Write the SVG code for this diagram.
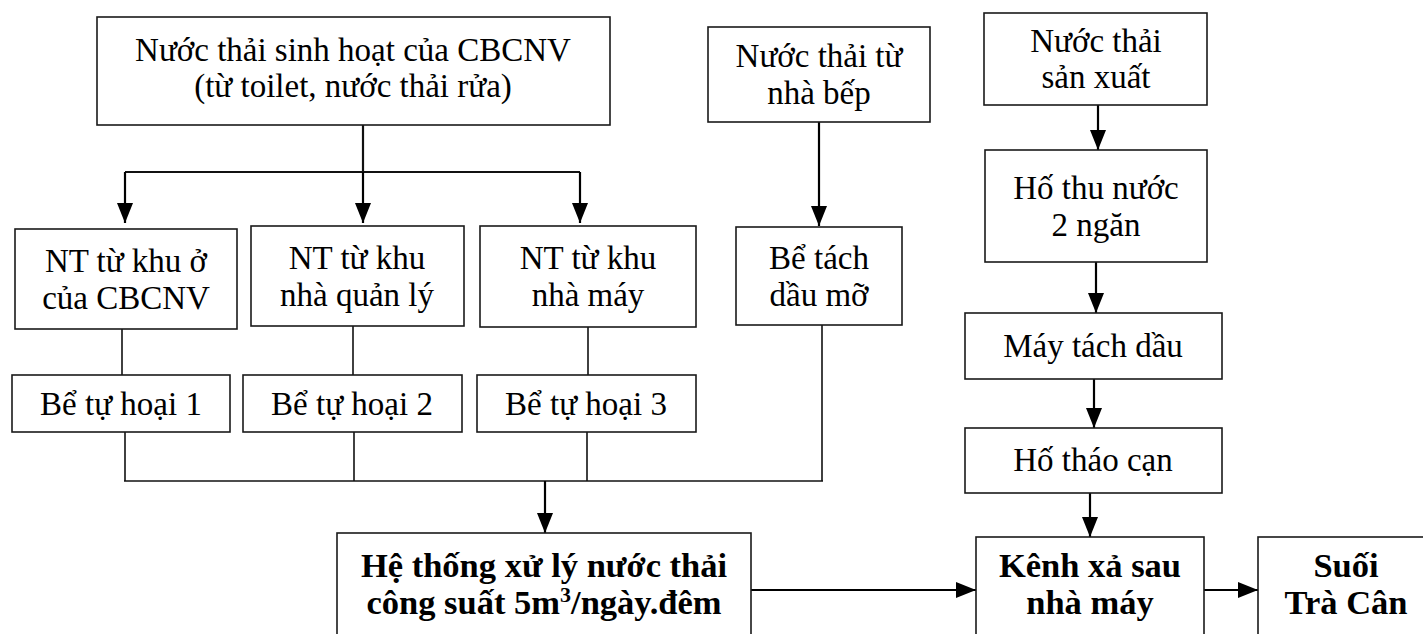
<svg xmlns="http://www.w3.org/2000/svg" width="1423" height="634" viewBox="0 0 1423 634">
  <style>
    .box { fill: #ffffff; stroke: #1a1a1a; stroke-width: 1.6; }
    .t { font-family: "Liberation Serif", "Times New Roman", serif; font-size: 33px; fill: #000; text-anchor: middle; }
    .b { font-weight: bold; font-size: 34.5px; }
    .ln { fill: none; stroke: #111; stroke-width: 1.6; }
    .ar { fill: none; stroke: #000; stroke-width: 2.2; marker-end: url(#head); }
  </style>
  <defs>
    <marker id="head" markerUnits="userSpaceOnUse" markerWidth="20" markerHeight="16" refX="20" refY="8" orient="auto" viewBox="0 0 20 16">
      <path d="M0,0 L20,8 L0,16 Z" fill="#000"/>
    </marker>
  </defs>
  <rect width="1423" height="634" fill="#ffffff"/>

  <g id="connectors">
    <!-- domestic wastewater split into three branches -->
    <line class="ln" x1="363" y1="125" x2="363" y2="172" style="stroke-width:2.2"/>
    <line class="ln" x1="125" y1="172" x2="580" y2="172" style="stroke-width:2.2"/>
    <line class="ar" x1="125" y1="172" x2="125" y2="223"/>
    <line class="ar" x1="363" y1="172" x2="363" y2="223"/>
    <line class="ar" x1="580" y1="172" x2="580" y2="223"/>
    <!-- NT areas to septic tanks -->
    <line class="ln" x1="122" y1="329" x2="122" y2="375"/>
    <line class="ln" x1="353" y1="326" x2="353" y2="375"/>
    <line class="ln" x1="588" y1="327" x2="588" y2="375"/>
    <!-- kitchen to grease trap -->
    <line class="ar" x1="819" y1="122" x2="819" y2="226"/>
    <!-- collector to treatment system -->
    <line class="ln" x1="125" y1="432" x2="125" y2="481"/>
    <line class="ln" x1="354" y1="432" x2="354" y2="481"/>
    <line class="ln" x1="587" y1="432" x2="587" y2="481"/>
    <line class="ln" x1="822" y1="325" x2="822" y2="481"/>
    <line class="ln" x1="124" y1="481" x2="823" y2="481"/>
    <line class="ar" x1="545" y1="481" x2="545" y2="533"/>
    <!-- production wastewater chain -->
    <line class="ar" x1="1098" y1="105" x2="1098" y2="150"/>
    <line class="ar" x1="1096" y1="262" x2="1096" y2="313"/>
    <line class="ar" x1="1094" y1="379" x2="1094" y2="428"/>
    <line class="ar" x1="1090" y1="493" x2="1090" y2="537"/>
    <!-- discharge -->
    <line class="ar" x1="751" y1="590" x2="976" y2="590"/>
    <line class="ar" x1="1204" y1="590" x2="1258" y2="590"/>
  </g>

  <g id="sinh-hoat">
    <rect class="box" x="97" y="17" width="513" height="108"/>
    <text class="t" x="353" y="61">Nước thải sinh hoạt của CBCNV</text>
    <text class="t" x="353" y="97">(từ toilet, nước thải rửa)</text>
  </g>

  <g id="nt-khu-o">
    <rect class="box" x="15" y="229" width="222" height="100"/>
    <text class="t" x="126" y="272">NT từ khu ở</text>
    <text class="t" x="126" y="309">của CBCNV</text>
  </g>
  <g id="nt-quan-ly">
    <rect class="box" x="251" y="226" width="213" height="100"/>
    <text class="t" x="357" y="269">NT từ khu</text>
    <text class="t" x="357" y="306">nhà quản lý</text>
  </g>
  <g id="nt-nha-may">
    <rect class="box" x="480" y="226" width="216" height="101"/>
    <text class="t" x="588" y="269">NT từ khu</text>
    <text class="t" x="588" y="306">nhà máy</text>
  </g>

  <g id="be-tu-hoai-1">
    <rect class="box" x="12" y="375" width="218" height="57"/>
    <text class="t" x="121" y="415">Bể tự hoại 1</text>
  </g>
  <g id="be-tu-hoai-2">
    <rect class="box" x="243" y="375" width="219" height="57"/>
    <text class="t" x="352" y="415">Bể tự hoại 2</text>
  </g>
  <g id="be-tu-hoai-3">
    <rect class="box" x="477" y="375" width="219" height="57"/>
    <text class="t" x="586" y="415">Bể tự hoại 3</text>
  </g>

  <g id="nha-bep">
    <rect class="box" x="708" y="27" width="222" height="95"/>
    <text class="t" x="819" y="67">Nước thải từ</text>
    <text class="t" x="819" y="104">nhà bếp</text>
  </g>
  <g id="be-tach-dau-mo">
    <rect class="box" x="736" y="227" width="166" height="98"/>
    <text class="t" x="819" y="269">Bể tách</text>
    <text class="t" x="819" y="306">dầu mỡ</text>
  </g>

  <g id="san-xuat">
    <rect class="box" x="984" y="13" width="223" height="92"/>
    <text class="t" x="1096" y="52">Nước thải</text>
    <text class="t" x="1096" y="88">sản xuất</text>
  </g>
  <g id="ho-thu-nuoc">
    <rect class="box" x="985" y="150" width="222" height="112"/>
    <text class="t" x="1096" y="199">Hố thu nước</text>
    <text class="t" x="1096" y="236">2 ngăn</text>
  </g>
  <g id="may-tach-dau">
    <rect class="box" x="965" y="313" width="257" height="66"/>
    <text class="t" x="1093" y="357">Máy tách dầu</text>
  </g>
  <g id="ho-thao-can">
    <rect class="box" x="965" y="428" width="257" height="65"/>
    <text class="t" x="1093" y="471">Hố tháo cạn</text>
  </g>

  <g id="he-thong-xu-ly">
    <rect class="box" x="337" y="533" width="414" height="130"/>
    <text class="t b" x="544" y="577">Hệ thống xử lý nước thải</text>
    <text class="t b" x="544" y="614">công suất 5m<tspan font-size="22" baseline-shift="super">3</tspan>/ngày.đêm</text>
  </g>
  <g id="kenh-xa">
    <rect class="box" x="976" y="537" width="228" height="130"/>
    <text class="t b" x="1090" y="577">Kênh xả sau</text>
    <text class="t b" x="1090" y="614">nhà máy</text>
  </g>
  <g id="suoi-tra-can">
    <rect class="box" x="1258" y="537" width="180" height="130"/>
    <text class="t b" x="1346" y="577">Suối</text>
    <text class="t b" x="1346" y="614">Trà Cân</text>
  </g>
</svg>
